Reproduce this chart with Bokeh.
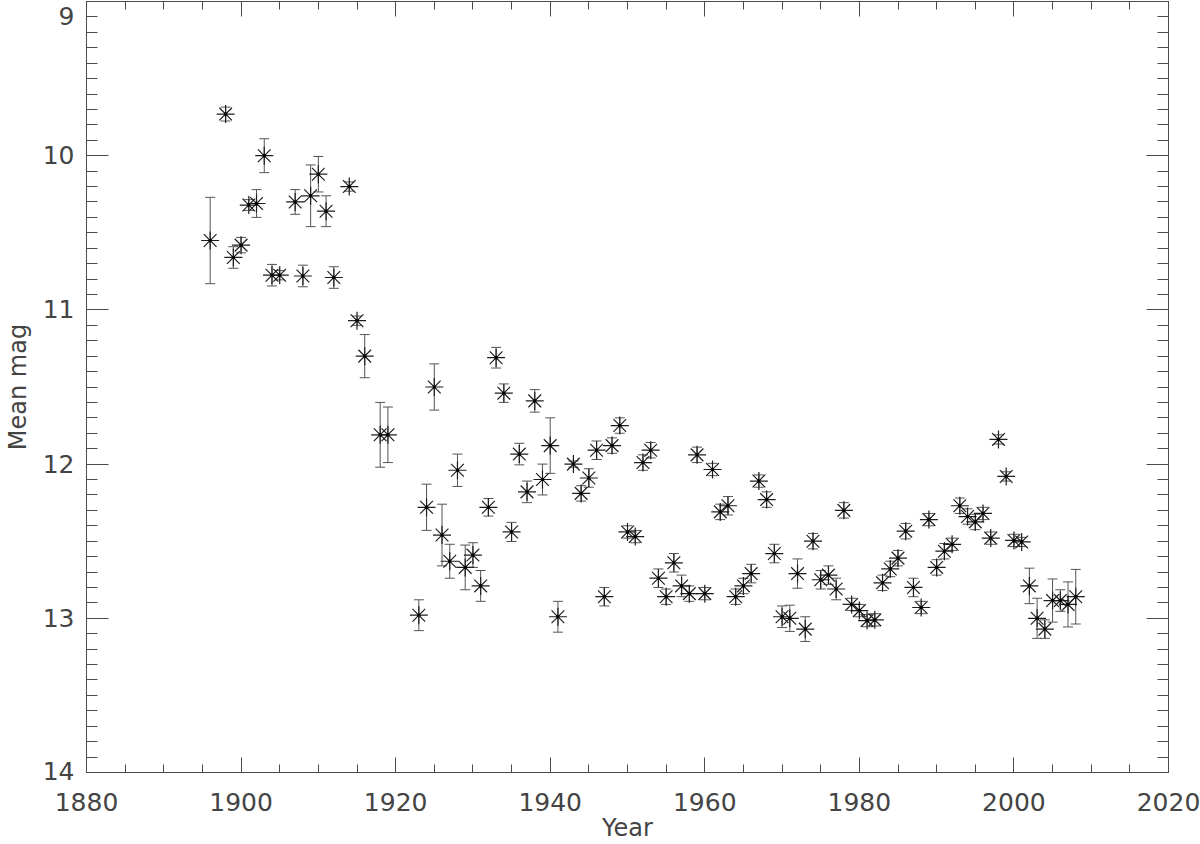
from bokeh.plotting import figure
from bokeh.models import (Range1d, FixedTicker, LinearAxis, Whisker, TeeHead,
                          ColumnDataSource)
from bokeh.embed import file_html
from bokeh.resources import INLINE

# ---- data ----
years = [1896, 1898, 1899, 1900, 1901, 1902, 1903, 1904, 1905, 1907,
         1908, 1909, 1910, 1911, 1912, 1914, 1915, 1916, 1918, 1919,
         1923, 1924, 1925, 1926, 1927, 1928, 1929, 1930, 1931, 1932,
         1933, 1934, 1935, 1936, 1937, 1938, 1939, 1940, 1941, 1943,
         1944, 1945, 1946, 1947, 1948, 1949, 1950, 1951, 1952, 1953,
         1954, 1955, 1956, 1957, 1958, 1959, 1960, 1961, 1962, 1963,
         1964, 1965, 1966, 1967, 1968, 1969, 1970, 1971, 1972, 1973,
         1974, 1975, 1976, 1977, 1978, 1979, 1980, 1981, 1982, 1983,
         1984, 1985, 1986, 1987, 1988, 1989, 1990, 1991, 1992, 1993,
         1994, 1995, 1996, 1997, 1998, 1999, 2000, 2001, 2002, 2003,
         2004, 2005, 2006, 2007, 2008]

mean_mag = [10.55, 9.73, 10.66, 10.58, 10.32, 10.31, 10.00, 10.775, 10.775, 10.30,
            10.78, 10.26, 10.12, 10.36, 10.79, 10.20, 11.07, 11.30, 11.81, 11.81,
            12.98, 12.28, 11.50, 12.46, 12.63, 12.04, 12.67, 12.59, 12.79, 12.28,
            11.31, 11.54, 12.44, 11.935, 12.18, 11.59, 12.10, 11.88, 12.99, 12.00,
            12.19, 12.09, 11.91, 12.86, 11.88, 11.75, 12.44, 12.47, 11.99, 11.91,
            12.74, 12.86, 12.64, 12.79, 12.84, 11.94, 12.84, 12.035, 12.31, 12.27,
            12.86, 12.79, 12.71, 12.11, 12.23, 12.58, 12.99, 13.00, 12.71, 13.07,
            12.50, 12.75, 12.72, 12.81, 12.30, 12.91, 12.95, 13.015, 13.01, 12.77,
            12.68, 12.61, 12.435, 12.80, 12.93, 12.36, 12.67, 12.565, 12.52, 12.27,
            12.34, 12.375, 12.32, 12.48, 11.84, 12.08, 12.495, 12.505, 12.79, 13.00,
            13.07, 12.885, 12.885, 12.91, 12.86]

mag_err = [0.28, 0.045, 0.07, 0.05, 0.035, 0.09, 0.11, 0.07, 0.03, 0.08,
           0.07, 0.20, 0.115, 0.10, 0.07, 0.03, 0.03, 0.14, 0.21, 0.18,
           0.10, 0.15, 0.15, 0.20, 0.11, 0.105, 0.145, 0.08, 0.10, 0.057,
           0.067, 0.06, 0.062, 0.07, 0.07, 0.073, 0.10, 0.18, 0.10, 0.02,
           0.05, 0.06, 0.06, 0.06, 0.05, 0.05, 0.04, 0.04, 0.05, 0.05,
           0.06, 0.05, 0.06, 0.07, 0.05, 0.05, 0.04, 0.04, 0.05, 0.06,
           0.05, 0.05, 0.06, 0.04, 0.05, 0.06, 0.07, 0.085, 0.095, 0.08,
           0.05, 0.06, 0.06, 0.07, 0.05, 0.04, 0.04, 0.04, 0.04, 0.05,
           0.05, 0.05, 0.05, 0.06, 0.04, 0.04, 0.05, 0.05, 0.04, 0.05,
           0.05, 0.05, 0.04, 0.04, 0.03, 0.03, 0.04, 0.03, 0.115, 0.13,
           0.06, 0.14, 0.07, 0.146, 0.177]

x_major_ticks = [1880, 1900, 1920, 1940, 1960, 1980, 2000, 2020]
x_minor_ticks = list(range(1880, 2021, 5))
y_major_ticks = [9, 10, 11, 12, 13, 14]
y_minor_ticks = [round(9 + 0.1 * i, 1) for i in range(51)]
y_tick_labels = {9: "\n9", 10: "10", 11: "11", 12: "12", 13: "13", 14: "14\n"}

INK = "#1e1e1e"
AXC = "#4a4a4a"
TXT = "#444444"
FONT = "DejaVu Sans"

src = ColumnDataSource(dict(
    x=years, y=mean_mag,
    lo=[m - e for m, e in zip(mean_mag, mag_err)],
    hi=[m + e for m, e in zip(mean_mag, mag_err)],
))

p = figure(width=1200, height=844,
           x_range=Range1d(1880, 2020), y_range=Range1d(14, 9),
           output_backend="svg", toolbar_location=None,
           min_border_left=85, min_border_right=32,
           min_border_top=1, min_border_bottom=10,
           x_axis_label="Year", y_axis_label="Mean mag")
p.background_fill_color = "white"
p.border_fill_color = "white"
p.outline_line_color = AXC
p.outline_line_width = 1
p.grid.visible = False

p.add_layout(LinearAxis(), "above")
p.add_layout(LinearAxis(), "right")

for ax in p.xaxis:
    ax.ticker = FixedTicker(ticks=x_major_ticks, minor_ticks=x_minor_ticks)
    ax.major_tick_in = 15
    ax.major_tick_out = 0
    ax.minor_tick_in = 8
    ax.minor_tick_out = 0
for ax in p.yaxis:
    ax.ticker = FixedTicker(ticks=y_major_ticks, minor_ticks=y_minor_ticks)
    ax.major_tick_in = 22
    ax.major_tick_out = 0
    ax.minor_tick_in = 11
    ax.minor_tick_out = 0

for ax in p.xaxis + p.yaxis:
    ax.axis_line_color = AXC
    ax.major_tick_line_color = AXC
    ax.minor_tick_line_color = AXC
    ax.major_label_text_font = FONT
    ax.major_label_text_font_size = "25px"
    ax.major_label_text_color = TXT
    ax.axis_label_text_font = FONT
    ax.axis_label_text_font_size = "24px"
    ax.axis_label_text_font_style = "normal"
    ax.axis_label_text_color = TXT

# hidden labels on top/right axes
for ax in (p.above[0], p.right[0]):
    ax.major_label_text_font_size = "0px"
    ax.major_label_standoff = 0
    ax.major_label_text_color = None

bottom = p.below[0]
bottom.major_label_standoff = 20
bottom.axis_label_standoff = 0
left = p.left[0]
left.major_label_standoff = 12
left.axis_label_standoff = 8
left.major_label_text_line_height = 0.05
left.major_label_overrides = y_tick_labels

# error bars
p.add_layout(Whisker(source=src, base="x", lower="lo", upper="hi",
                     dimension="height", line_color="#555555", line_width=1,
                     lower_head=TeeHead(size=10, line_color="#555555", line_width=1),
                     upper_head=TeeHead(size=10, line_color="#555555", line_width=1)))

# asterisk markers
p.scatter("x", "y", source=src, marker="x", size=18, line_color=INK, line_width=1.2)
p.scatter("x", "y", source=src, marker="cross", size=18, line_color=INK, line_width=1.2)
p.scatter("x", "y", source=src, marker="square", size=3, fill_color="black",
          line_color=None)

open("out.html", "w").write(file_html(p, INLINE))
